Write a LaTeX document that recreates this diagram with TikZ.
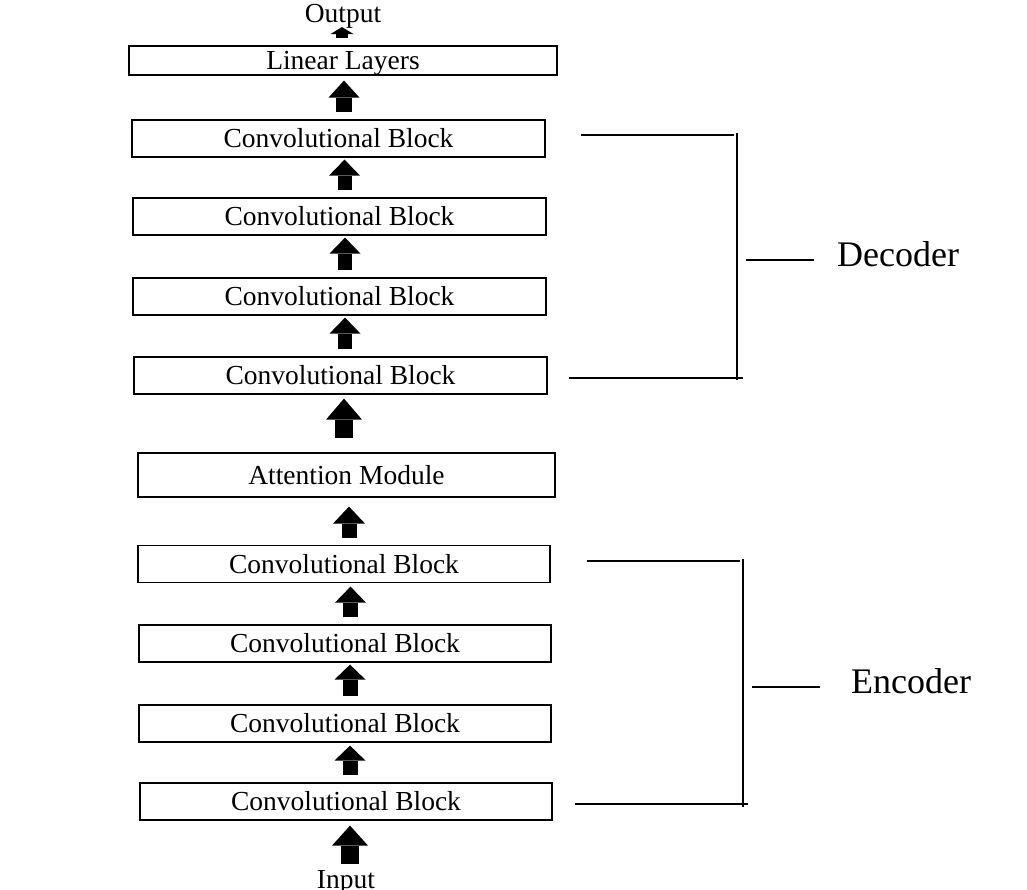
\documentclass[tikz,border=0pt]{standalone}
\usepackage{fontspec}
\setmainfont{Liberation Serif}
\usetikzlibrary{arrows.meta}

\begin{document}
\begin{tikzpicture}[x=1pt,y=-1pt,
    txt/.style={font=\fontsize{27.5}{33}\selectfont, inner sep=0pt},
    block/.style={txt, draw, line width=1.2pt, minimum width=413pt, minimum height=37pt},
    blk/.style n args={3}{line width=#1, -{Triangle[length=#3, width=#2, line width=0pt 0 0]}},
    brace/.style={line width=1.1pt},
    partname/.style={font=\fontsize{36}{43}\selectfont, inner sep=0pt, anchor=base west}]
    \useasboundingbox (0,0) rectangle (1027,890);
    % Output side
    \node[txt, anchor=base] (out) at (343,23) {Output};
    \node[block, minimum width=428pt, minimum height=29pt, text depth=0pt] (lin) at (343,60.5) {Linear Layers};
    % Decoder blocks
    \node[block] (d4) at (338.5,138.5) {Convolutional Block};
    \node[block] (d3) at (339.5,216.5) {Convolutional Block};
    \node[block] (d2) at (339.5,296.5) {Convolutional Block};
    \node[block] (d1) at (340.5,375.5) {Convolutional Block};
    % Attention
    \node[block, minimum width=417pt, minimum height=44pt] (att) at (346.5,475) {Attention Module};
    % Encoder blocks
    \node[block, minimum width=412pt] (e4) at (344,564) {Convolutional Block};
    \node[block, minimum width=412pt] (e3) at (345,643.5) {Convolutional Block};
    \node[block, minimum width=412pt] (e2) at (345,723.5) {Convolutional Block};
    \node[block, minimum width=412pt] (e1) at (346,801.5) {Convolutional Block};
    \node[txt, anchor=base] (in) at (346,888) {Input};

    % Block arrows
    \draw[blk={18pt}{36pt}{20pt}, shorten <=6pt, shorten >=5pt] ([xshift=4pt]in.north) -- ([xshift=4pt]in.north |- e1.south);
    \draw[blk={15pt}{31pt}{15pt}, shorten <=7pt, shorten >=3pt] ([xshift=4pt]e1.north) -- ([xshift=4pt]e1.north |- e2.south);
    \draw[blk={15pt}{31pt}{15pt}, shorten <=8pt, shorten >=2pt] ([xshift=5pt]e2.north) -- ([xshift=5pt]e2.north |- e3.south);
    \draw[blk={15pt}{31pt}{16pt}, shorten <=7pt, shorten >=3.5pt] ([xshift=5.5pt]e3.north) -- ([xshift=5.5pt]e3.north |- e4.south);
    \draw[blk={15pt}{32pt}{17pt}, shorten <=7pt, shorten >=9pt] ([xshift=5pt]e4.north) -- ([xshift=5pt]e4.north |- att.south);
    \draw[blk={18pt}{36pt}{21pt}, shorten <=14pt, shorten >=4pt] ([xshift=-2.5pt]att.north) -- ([xshift=-2.5pt]att.north |- d1.south);
    \draw[blk={14pt}{31pt}{16pt}, shorten <=7pt, shorten >=2pt] ([xshift=4.5pt]d1.north) -- ([xshift=4.5pt]d1.north |- d2.south);
    \draw[blk={14pt}{31pt}{16pt}, shorten <=7pt, shorten >=2pt] ([xshift=5.5pt]d2.north) -- ([xshift=5.5pt]d2.north |- d3.south);
    \draw[blk={14pt}{31pt}{16pt}, shorten <=7pt, shorten >=2pt] ([xshift=5pt]d3.north) -- ([xshift=5pt]d3.north |- d4.south);
    \draw[blk={16pt}{31pt}{17pt}, shorten <=7pt, shorten >=5pt] ([xshift=5.5pt]d4.north) -- ([xshift=5.5pt]d4.north |- lin.south);
    \draw[blk={12pt}{23pt}{7pt}, shorten <=7pt, shorten >=-2pt] ([xshift=-1pt]lin.north) -- ([xshift=-1pt]lin.north |- out.south);

    % Decoder bracket
    \draw[brace] (581,135) -- (734,135);
    \draw[brace] (737,133) -- (737,380);
    \draw[brace] (569,378) -- (743,378);
    \draw[brace] (746,260) -- (814,260);
    \node[partname] (dec) at (837,267) {Decoder};
    % Encoder bracket
    \draw[brace] (587,561) -- (740,561);
    \draw[brace] (743,559) -- (743,807);
    \draw[brace] (575,804) -- (748,804);
    \draw[brace] (752,687) -- (820,687);
    \node[partname] (enc) at (851,693) {Encoder};
\end{tikzpicture}
\end{document}
